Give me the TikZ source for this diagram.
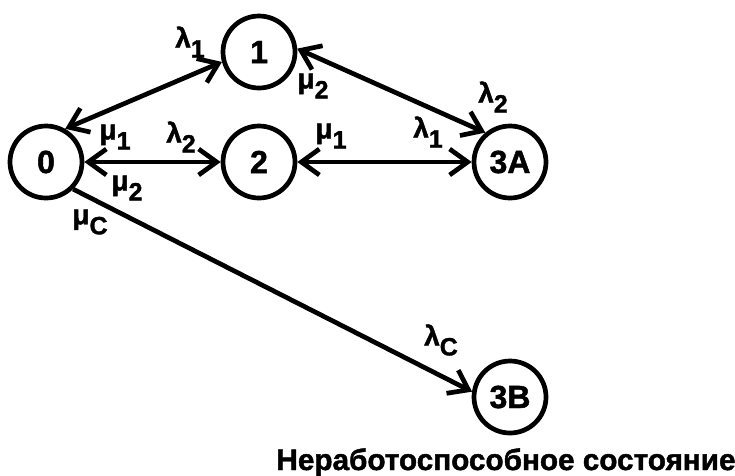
\documentclass[tikz,border=0pt]{standalone}
\usepackage{fontspec}
\setmainfont{Liberation Sans}[BoldFeatures={FakeBold=1.5}]
\usetikzlibrary{automata,arrows.meta}
\newcommand{\rate}[2]{#1\raisebox{-10pt}{\fontsize{25}{25}\selectfont #2}}

\begin{document}
\begin{tikzpicture}[x=1pt, y=-1pt, line width=4.7pt, >={Straight Barb[length=18pt,width=26pt]}]
      \tikzstyle{every node}=[font=\bfseries\fontsize{28}{28}\selectfont, inner sep=0pt]
      \tikzstyle{every state}=[minimum size=72pt, font=\bfseries\fontsize{32}{32}\selectfont]
      \useasboundingbox (0,0) rectangle (735,475);
      \node [state] (n0) at (46,162) {0};
      \node [state] (n1) at (259,52) {1};
      \node [state] (n2) at (259,162) {2};
      \node [state] (n3a) at (510,162) {3A};
      \node [state] (n3b) at (510,397) {3B};
      \draw[<->] (n0.60) -- (n1.195);
      \draw[<->] (n0) -- (n2);
      \draw[<->] (n1.5) -- (n3a.130);
      \draw[<->] (n2) -- (n3a);
      \draw[->] (n0.-45) -- (n3b.172);
      \node (l1a) at (190,42) {\rate{λ}{1}};
      \node (m2a) at (313,86) {\rate{μ}{2}};
      \node (m1a) at (115,137) {\rate{μ}{1}};
      \node (m2b) at (127,188) {\rate{μ}{2}};
      \node (mc) at (90,222) {\rate{μ}{C}};
      \node (l2a) at (181,137) {\rate{λ}{2}};
      \node (m1b) at (331,136) {\rate{μ}{1}};
      \node (l1b) at (428,132) {\rate{λ}{1}};
      \node (l2b) at (493,97) {\rate{λ}{2}};
      \node (lc) at (441,340) {\rate{λ}{C}};
      \node [anchor=base, font=\bfseries\fontsize{29.7}{29.7}\selectfont] (cap) at (506,470) {Неработоспособное состояние};
\end{tikzpicture}
\end{document}
